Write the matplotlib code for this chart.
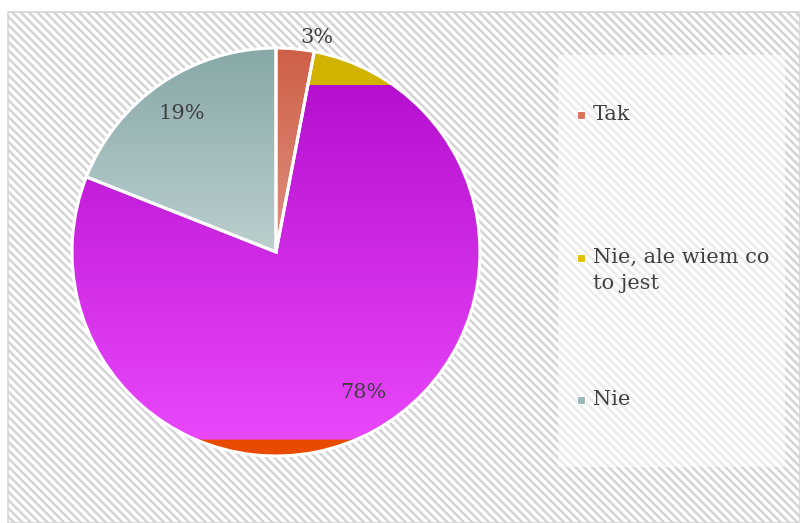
import numpy as np
import matplotlib
matplotlib.use("Agg")
import matplotlib.pyplot as plt
from matplotlib.patches import Rectangle
from matplotlib.colors import to_rgba

# ---- data ----
categories = ["Tak", "Nie, ale wiem co to jest", "Nie"]
legend_labels = ["Tak", "Nie, ale wiem co\nto jest", "Nie"]
values = [3, 78, 19]
pct_labels = ["3%", "78%", "19%"]
legend_colors = ["#d9705c", "#e0c000", "#9bb8b8"]

FONT = ["DejaVu Serif"]
TXT = "#404040"

plt.rcParams["hatch.color"] = "#e8e8e8"
plt.rcParams["hatch.linewidth"] = 1.8

fig = plt.figure(figsize=(8.0, 5.23), dpi=100)
W, H = 800, 523

# background panel with diagonal stripes
bg = fig.add_axes([0, 0, 1, 1])
bg.set_xlim(0, W)
bg.set_ylim(H, 0)
bg.axis("off")
bg.add_patch(Rectangle((8, 12), W - 8, H - 12, facecolor="white",
                       edgecolor="#d4d4d4", lw=1.2, hatch="\\" * 4))
bg.add_patch(Rectangle((558, 55), 227, 412, facecolor="white",
                       edgecolor="none", alpha=0.55))

# pie axes: center (276,252) radius 204 px
cx, cy, r = 276, 252, 204
ax = fig.add_axes([(cx - r) / W, (H - cy - r) / H, 2 * r / W, 2 * r / H])
ax.set_xlim(-1, 1)
ax.set_ylim(-1, 1)
ax.axis("off")

wedges, _ = ax.pie(values, startangle=90, counterclock=False, radius=1,
                   colors=legend_colors,
                   wedgeprops=dict(edgecolor="white", linewidth=2.2))


def grad_rows(stops, n=600):
    ys = np.linspace(1, -1, n)
    arr = np.zeros((n, 1, 4))
    sy = [s[0] for s in stops][::-1]
    cols = np.array([to_rgba(s[1]) for s in stops])[::-1]
    for k in range(4):
        arr[:, 0, k] = np.interp(ys, sy, cols[:, k])
    return arr


gradients = [
    [(1.0, "#cf5f47"), (0.0, "#dd9282"), (-1.0, "#dd9282")],
    [(1.0, "#d2b400"), (0.821, "#d2b400"), (0.819, "#b510cf"),
     (-0.919, "#e947fb"), (-0.921, "#e84a00"), (-1.0, "#e84a00")],
    [(1.0, "#88a8a8"), (0.0, "#bccfcf"), (-1.0, "#bccfcf")],
]

for w, g in zip(wedges, gradients):
    im = ax.imshow(grad_rows(g), extent=(-1, 1, -1, 1), origin="upper",
                   aspect="auto", zorder=1, interpolation="nearest")
    im.set_clip_path(w)
    w.set_facecolor("none")
    w.set_zorder(2)

# percentage labels (position along wedge angle, radius)
label_t = [0.0, 0.511, 0.5]
label_r = [1.07, 0.81, 0.82]
for w, lab, t, lr in zip(wedges, pct_labels, label_t, label_r):
    th = np.deg2rad(w.theta1 + t * (w.theta2 - w.theta1))
    ax.text(lr * np.cos(th), lr * np.sin(th), lab, ha="center", va="center",
            fontsize=15, color=TXT, family=FONT, zorder=5)

ax.set_xlim(-1, 1)
ax.set_ylim(-1, 1)

# legend
leg_y = [115, 258, 400]
for lab, col, y in zip(legend_labels, legend_colors, leg_y):
    bg.add_patch(Rectangle((577, y - 4), 8, 8, facecolor=col,
                           edgecolor="white", lw=0.8))
    bg.text(593, y - 10, lab, ha="left", va="top", fontsize=15,
            color=TXT, family=FONT, linespacing=1.45)

fig.savefig("out.png", dpi=100)
